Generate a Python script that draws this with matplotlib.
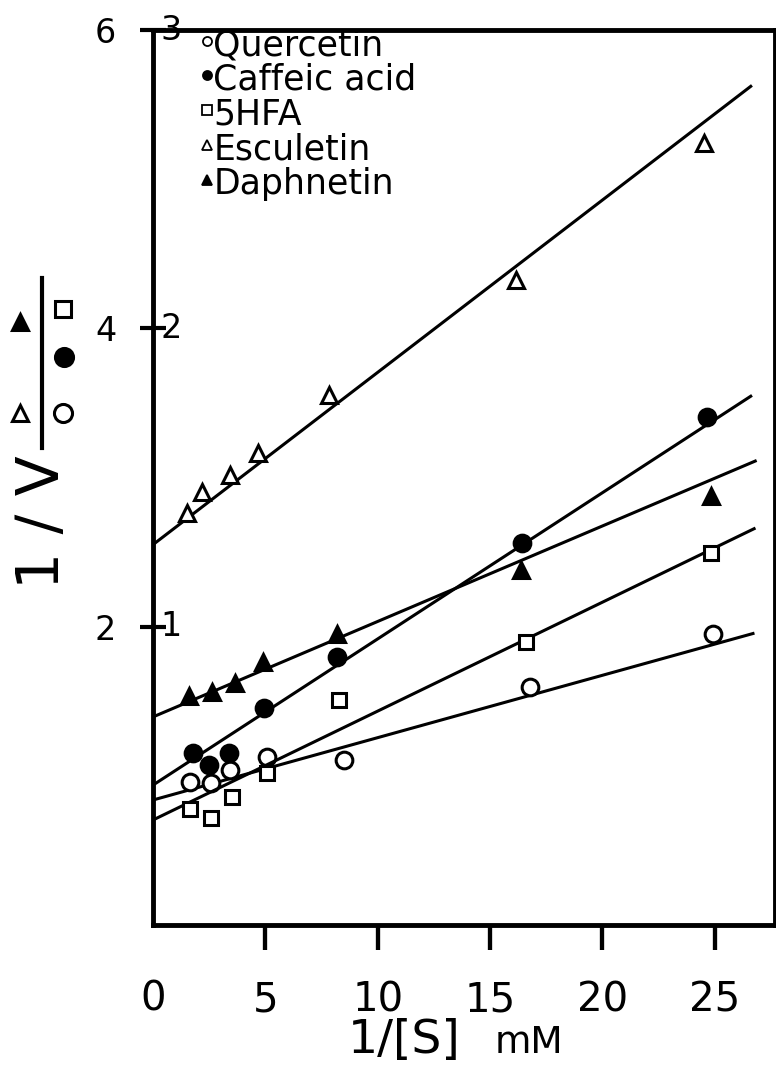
import numpy as np
import matplotlib.pyplot as plt
import matplotlib.transforms as mtransforms
from matplotlib.lines import Line2D, TICKDOWN

# data (1/[S] in mM^-1, 1/V)
# circles and squares use the inner scale (0-3), triangles the outer one (0-6)
names = ['Quercetin', 'Caffeic acid', '5HFA', 'Esculetin', 'Daphnetin']

querc_x = [1.65, 2.58, 3.43, 5.07, 8.5, 16.78, 24.92]
querc_y = [0.479, 0.476, 0.520, 0.563, 0.553, 0.798, 0.976]

caff_x = [1.78, 2.49, 3.38, 4.94, 8.19, 16.42, 24.66]
caff_y = [0.577, 0.536, 0.577, 0.727, 0.898, 1.281, 1.703]

hfa_x = [1.65, 2.58, 3.52, 5.07, 8.28, 16.6, 24.83]
hfa_y = [0.389, 0.359, 0.429, 0.510, 0.754, 0.949, 1.247]

escul_x = [1.51, 2.18, 3.43, 4.67, 7.83, 16.16, 24.52]
escul_y = [2.762, 2.903, 3.017, 3.165, 3.554, 4.325, 5.243]

daph_x = [1.6, 2.63, 3.65, 4.9, 8.19, 16.38, 24.83]
daph_y = [1.535, 1.562, 1.623, 1.763, 1.951, 2.380, 2.876]

# fitted lines: intercept, slope, end of line on x
intercepts = [0.419, 0.469, 0.352, 2.55, 1.395]
slopes = [0.0209, 0.049, 0.0365, 0.1155, 0.064]
x_ends = [26.7, 26.6, 26.75, 26.6, 26.8]

inner_ticks = [1, 2, 3]
outer_labels = ['2', '4', '6']
x_ticks = [5, 10, 15, 20, 25]

series = [(querc_x, querc_y), (caff_x, caff_y), (hfa_x, hfa_y),
          (escul_x, escul_y), (daph_x, daph_y)]
styles = [dict(marker='o', mfc='white'), dict(marker='o', mfc='black'),
          dict(marker='s', mfc='white'), dict(marker='^', mfc='white'),
          dict(marker='^', mfc='black')]
sizes = [12, 12, 10, 11, 11]

W, H = 776, 1067
fig = plt.figure(figsize=(W / 100, H / 100), dpi=100)
ax = fig.add_axes([153 / W, 1 - 925 / H, (775 - 153) / W, (925 - 30) / H])
ax.set_xlim(0, 27.68)
ax.set_ylim(0, 3)

# triangles are on the 0-6 scale: halve them onto the 0-3 axis
outer = mtransforms.Affine2D().scale(1, 0.5) + ax.transData

for i, (xs, ys) in enumerate(series):
    tr = outer if i >= 3 else ax.transData
    xl = np.array([0, x_ends[i]])
    ax.plot(xl, intercepts[i] + slopes[i] * xl, color='black', lw=2.2,
            transform=tr)
    ax.plot(xs, ys, ls='none', color='black', mec='black', mew=2.2,
            ms=sizes[i], transform=tr, **styles[i])

for side in ['left', 'bottom', 'top', 'right']:
    ax.spines[side].set_linewidth(3.5)

# x axis
ax.set_xticks(x_ticks)
ax.set_xticklabels([str(t) for t in x_ticks], family='Liberation Sans Narrow',
                   fontsize=29)
ax.tick_params(axis='x', bottom=True, direction='out', length=18, width=3,
               pad=22, color='black')
# tick marks drawn again as markers so they always show
ax.plot(x_ticks, [0] * len(x_ticks), transform=ax.get_xaxis_transform(),
        ls='none', marker=TICKDOWN, ms=18, mew=3, color='black',
        clip_on=False, zorder=5)
ax.text(0, -0.083, '0', transform=ax.get_xaxis_transform(),
        family='Liberation Sans Narrow', fontsize=29, ha='center', va='center')

# y axis: outer scale labels on the ticks, inner scale written inside
ax.set_yticks(inner_ticks)
ax.set_yticklabels(outer_labels, fontsize=24)
ax.tick_params(axis='y', left=True, direction='inout', length=19, width=3,
               pad=17, color='black')
for t in inner_ticks:
    ax.text(0.012, t, str(t), transform=ax.get_yaxis_transform(),
            fontsize=24, ha='left', va='center')

# legend, drawn by hand
for i, name in enumerate(names):
    yy = 0.983 - i * 0.0388
    ax.plot([0.087], [yy + 0.005], transform=ax.transAxes, ls='none',
            color='black', mec='black', mew=1.3, ms=6.5, clip_on=False,
            **styles[i])
    ax.text(0.097, yy, name, transform=ax.transAxes, fontsize=25,
            va='center', ha='left')

# axis titles
fig.text(42 / W, 1 - 522 / H, '1 / V', rotation=90, fontsize=42,
         ha='center', va='center')
fig.add_artist(Line2D([42 / W, 42 / W], [1 - 278 / H, 1 - 448 / H],
                      color='black', lw=3, transform=fig.transFigure))
sym = [(20, 322, '^', 'black'), (20, 413, '^', 'white'),
       (63, 309, 's', 'white'), (64, 357, 'o', 'black'),
       (63, 413, 'o', 'white')]
for sx, sy, m, fc in sym:
    fig.add_artist(Line2D([sx / W], [1 - sy / H], marker=m, mfc=fc,
                          mec='black', mew=2.2, ms=13 if m == 'o' else 11,
                          ls='none', transform=fig.transFigure))

fig.text(404 / W, 1 - 1040 / H, '1/[S]', fontsize=34,
         family='Liberation Sans Narrow', ha='center', va='center')
fig.text(529 / W, 1 - 1043 / H, 'mM', fontsize=27,
         family='Liberation Sans Narrow', ha='center', va='center')

fig.savefig('out.png', dpi=100)
